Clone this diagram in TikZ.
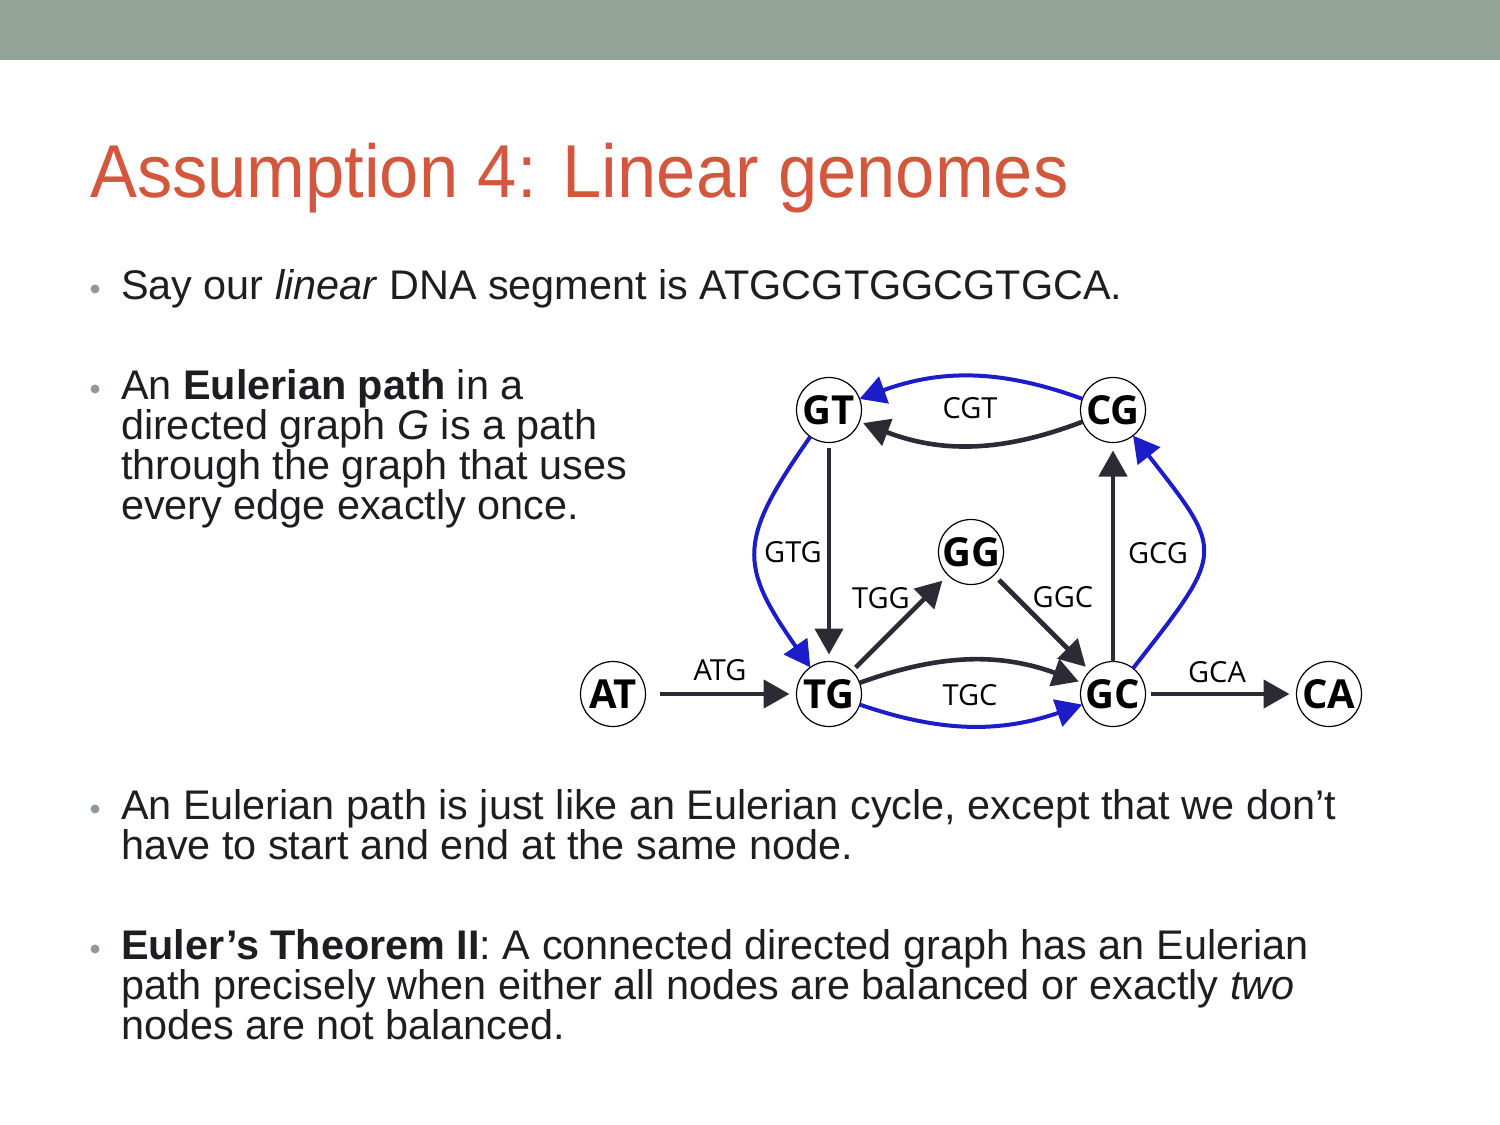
\documentclass[tikz,border=0pt]{standalone}
\usepackage{fontspec}
\setmainfont{Liberation Sans}
\newfontfamily\titlefont{Liberation Sans}[FakeStretch=0.94]
\newfontfamily\graphfont{Open Sans}
\usetikzlibrary{arrows.meta}
\definecolor{barcol}{HTML}{92A398}
\definecolor{titlecol}{HTML}{D3573C}
\definecolor{textcol}{HTML}{1E1E22}
\definecolor{bulletcol}{HTML}{8E9B94}
\definecolor{darkedge}{HTML}{2B2A35}
\definecolor{blueedge}{HTML}{1C1CC8}
\begin{document}
\begin{tikzpicture}[x=0.5pt,y=0.5pt,
  every node/.style={inner sep=0pt, outer sep=0pt},
  txt/.style={anchor=base west, font=\fontsize{20.7}{20}\selectfont, text=textcol},
  bul/.style={circle, fill=bulletcol, minimum size=4.5pt},
  vert/.style={circle, draw=black, line width=0.6pt, fill=white, minimum size=32.5pt,
    font=\graphfont\bfseries\fontsize{20}{20}\selectfont},
  dk/.style={draw=darkedge, line width=2.3pt, -{Triangle[length=13pt,width=14pt]}},
  bl/.style={draw=blueedge, line width=2pt, -{Triangle[length=13pt,width=14pt]}},
  lbl/.style={font=\graphfont\fontsize{14.5}{14.5}\selectfont, text=black}]
\useasboundingbox (0,0) rectangle (1500,-1125);
\fill[barcol] (0,0) rectangle (1500,-60);

% title
\node[anchor=base west, font=\titlefont\fontsize{37.5}{40}\selectfont, text=titlecol] (title) at (90,-197) {Assumption 4: Linear genomes};

% bullets
\node[bul] (b1) at (95,-289) {};
\node[txt] (t1) at (121,-299) {Say our \textit{linear} DNA segment is ATGCGTGGCGTGCA.};

\node[bul] (b2) at (95,-389) {};
\node[txt] (t2a) at (121,-399) {An \textbf{Eulerian path} in a};
\node[txt] (t2b) at (121,-439) {directed graph \textit{G} is a path};
\node[txt] (t2c) at (121,-479) {through the graph that uses};
\node[txt] (t2d) at (121,-519) {every edge exactly once.};

\node[bul] (b3) at (95,-809) {};
\node[txt] (t3a) at (121,-819) {An Eulerian path is just like an Eulerian cycle, except that we don’t};
\node[txt] (t3b) at (121,-859) {have to start and end at the same node.};

\node[bul] (b4) at (95,-949) {};
\node[txt] (t4a) at (121,-959) {\textbf{Euler’s Theorem II}: A connected directed graph has an Eulerian};
\node[txt] (t4b) at (121,-999) {path precisely when either all nodes are balanced or exactly \textit{two}};
\node[txt] (t4c) at (121,-1039) {nodes are not balanced.};

% graph nodes
\node[vert] (AT) at (613,-694) {AT};
\node[vert] (TG) at (829,-694) {TG};
\node[vert] (GT) at (829,-410) {GT};
\node[vert] (CG) at (1113,-410) {CG};
\node[vert] (GG) at (971,-552) {GG};
\node[vert] (GC) at (1113,-694) {GC};
\node[vert] (CA) at (1329,-694) {CA};

% edges
\draw[dk, shorten <=7pt, shorten >=3.5pt] (AT) -- (TG);
\draw[dk, shorten <=2.5pt, shorten >=3.5pt] (GT) -- (TG);
\draw[bl] (GT) to[out=235,in=125,looseness=1.4] (TG);
\draw[dk, shorten <=2.5pt, shorten >=4pt] (TG) -- (GG);
\draw[dk, shorten <=3.5pt, shorten >=3pt] (GG) -- (GC);
\draw[dk, shorten >=2pt] (TG) to[bend left=20] (GC);
\draw[bl] (TG) to[bend right=19] (GC);
\draw[dk, shorten >=4pt] (GC) -- (CG);
\draw[bl] (GC) to[out=52,in=-52,looseness=1.65] (CG);
\draw[dk, shorten >=2pt] (CG) to[bend left=21] (GT);
\draw[bl] (CG) to[bend right=20] (GT);
\draw[dk, shorten <=2.5pt, shorten >=3.5pt] (GC) -- (CA);

% edge labels
\node[lbl] (lATG) at (720,-670) {ATG};
\node[lbl] (lGTG) at (793,-552) {GTG};
\node[lbl] (lTGG) at (881,-598) {TGG};
\node[lbl] (lGGC) at (1063,-597) {GGC};
\node[lbl] (lTGC) at (970,-695) {TGC};
\node[lbl] (lGCG) at (1158,-553) {GCG};
\node[lbl] (lGCA) at (1217,-672) {GCA};
\node[lbl] (lCGT) at (970,-408) {CGT};
\end{tikzpicture}
\end{document}
